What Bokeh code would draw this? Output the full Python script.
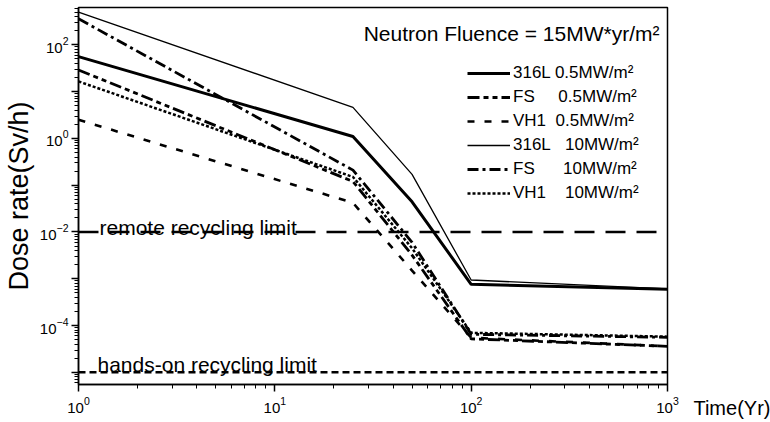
from bokeh.plotting import figure
from bokeh.layouts import row
from bokeh.models import (Range1d, FixedTicker, Legend, LegendItem, Label, Span,
                          LinearAxis)
from bokeh.embed import file_html
from bokeh.resources import INLINE

# ---- data ----
time_yr = [1, 25, 50, 100, 1000]
s316l_05 = [56, 1.1, 0.044, 7.6e-4, 6.0e-4]
fs_05 = [29, 0.12, 3.2e-3, 5.2e-5, 3.6e-5]
vh1_05 = [2.5, 0.042, 1.5e-3, 5.5e-5, 3.6e-5]
s316l_10 = [500, 4.6, 0.17, 9.4e-4, 6.1e-4]
fs_10 = [360, 0.21, 6.0e-3, 6.5e-5, 5.6e-5]
vh1_10 = [16.5, 0.15, 4.5e-3, 7.0e-5, 5.8e-5]

remote_limit = 1e-2
handson_limit = 1e-5

x_major = [1, 10, 100, 1000]
y_major = [1e-5, 1e-4, 1e-3, 1e-2, 1e-1, 1, 10, 100]
y_hidden = [1e-5, 1e-3, 1e-1, 10]

series_labels = [
    "316L 0.5MW/m\u00b2",
    "FS\u00a0\u00a0\u00a0\u00a0 0.5MW/m\u00b2",
    "VH1\u00a0\u00a00.5MW/m\u00b2",
    "316L\u00a0\u00a0\u00a010MW/m\u00b2",
    "FS\u00a0\u00a0\u00a0\u00a0\u00a0\u00a010MW/m\u00b2",
    "VH1\u00a0\u00a0\u00a0\u00a010MW/m\u00b2",
]

FONT = "Liberation Sans"

p = figure(width=682, height=422, x_axis_type="log", y_axis_type="log",
           x_range=Range1d(1, 1000), y_range=Range1d(5.5e-6, 627),
           output_backend="svg", toolbar_location=None,
           min_border_left=76, min_border_right=15,
           min_border_top=7, min_border_bottom=38)
p.grid.visible = False
p.outline_line_color = "black"
p.outline_line_width = 1.5
p.background_fill_color = "white"
p.border_fill_color = "white"

p.xaxis.ticker = FixedTicker(ticks=x_major,
                             minor_ticks=[k * 10.0 ** e for e in range(0, 3) for k in range(2, 10)])
p.yaxis.ticker = FixedTicker(ticks=y_major,
                             minor_ticks=[k * 10.0 ** e for e in range(-6, 3) for k in range(2, 10)])
p.yaxis.major_label_overrides = {v: "" for v in y_hidden}

for ax in (p.xaxis, p.yaxis):
    ax.axis_line_width = 1.5
    ax.axis_line_color = "black"
    ax.major_tick_in = 0
    ax.major_tick_out = 7
    ax.minor_tick_in = 0
    ax.minor_tick_out = 4
    ax.major_tick_line_width = 1.5
    ax.minor_tick_line_width = 1
    ax.major_label_text_font = FONT
    ax.major_label_text_font_size = "15px"
    ax.major_label_text_color = "black"

p.xaxis.major_label_standoff = 5
p.yaxis.major_label_standoff = 3
p.yaxis.axis_label = "Dose rate(Sv/h)"
p.yaxis.axis_label_text_font = FONT
p.yaxis.axis_label_text_font_size = "27px"
p.yaxis.axis_label_text_font_style = "normal"
p.yaxis.axis_label_text_color = "black"
p.yaxis.axis_label_standoff = 3

# limits
p.add_layout(Span(location=remote_limit, dimension="width", line_color="black",
                  line_width=2.5, line_dash="20 11"))
p.add_layout(Span(location=handson_limit, dimension="width", line_color="black",
                  line_width=2.5, line_dash="7 4"))

styles = [
    dict(line_width=3.0, line_dash="solid"),
    dict(line_width=2.8, line_dash="12 4 5 4 5 4"),
    dict(line_width=2.6, line_dash="7 10"),
    dict(line_width=1.3, line_dash="solid"),
    dict(line_width=2.8, line_dash="11 4 3 4"),
    dict(line_width=2.5, line_dash="3 2"),
]
all_series = [s316l_05, fs_05, vh1_05, s316l_10, fs_10, vh1_10]
items = []
for ys, st, lab in zip(all_series, styles, series_labels):
    r = p.line(time_yr, ys, line_color="black", **st)
    items.append(LegendItem(label=lab, renderers=[r]))

legend = Legend(items=items, location=(389, 179), glyph_width=43, glyph_height=24,
                label_height=24, spacing=0, padding=0, margin=0, label_standoff=3,
                border_line_alpha=0, background_fill_alpha=0,
                label_text_font=FONT, label_text_font_size="17px", label_text_color="black")
p.add_layout(legend)

p.add_layout(Label(x=581, y=351, x_units="screen", y_units="screen",
                   text="Neutron Fluence = 15MW*yr/m\u00b2", text_align="right",
                   text_baseline="alphabetic", text_font=FONT, text_font_size="21px",
                   text_color="black"))
p.add_layout(Label(x=21, y=157, x_units="screen", y_units="screen",
                   text="remote recycling limit", text_baseline="alphabetic",
                   text_font=FONT, text_font_size="21px", text_color="black"))
p.add_layout(Label(x=19, y=20, x_units="screen", y_units="screen",
                   text="hands-on recycling limit", text_baseline="alphabetic",
                   text_font=FONT, text_font_size="21px", text_color="black"))

# small side panel carrying the x-axis title next to the last tick label
title_pos = 0.5625
p2 = figure(width=88, height=422, x_range=Range1d(0, 1), y_range=Range1d(0, 1),
            output_backend="svg", toolbar_location=None,
            x_axis_location=None, y_axis_location=None,
            min_border_left=0, min_border_right=0, min_border_top=7, min_border_bottom=38)
p2.grid.visible = False
p2.outline_line_color = None
p2.background_fill_color = "white"
p2.border_fill_color = "white"
tax = LinearAxis(ticker=FixedTicker(ticks=[title_pos]),
                 major_label_overrides={title_pos: "Time(Yr)"},
                 axis_line_color=None, major_tick_line_color=None,
                 minor_tick_line_color=None, major_tick_out=0, major_tick_in=0,
                 major_label_standoff=12, major_label_text_font=FONT,
                 major_label_text_font_size="20px", major_label_text_color="black")
p2.add_layout(tax, "below")

layout = row(p, p2, spacing=0)
open("out.html", "w").write(file_html(layout, INLINE))
